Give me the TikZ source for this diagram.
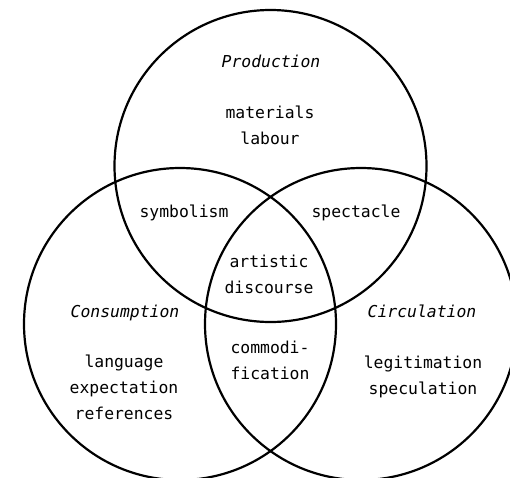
\documentclass[tikz,border=0pt]{standalone}
\usepackage{fontspec}
\setmonofont{DejaVu Sans Mono}

\begin{document}
\begin{tikzpicture}[x=1pt, y=-1pt,
    ring/.style={line width=2.2pt},
    word/.style={font=\ttfamily\fontsize{16.4}{25.6}\selectfont,
        align=center, anchor=base, inner sep=0pt},
    setname/.style={word, font=\ttfamily\itshape\fontsize{16.4}{25.6}\selectfont}]
    \useasboundingbox (0,0) rectangle (510,477);

    % Środki trzech okręgów
    \coordinate (prod) at (270.5,166);
    \coordinate (cons) at (180,324);
    \coordinate (circ) at (361,324);

    % Okręgi
    \draw[ring] (prod) circle[radius=156pt];
    \draw[ring] (cons) circle[radius=156pt];
    \draw[ring] (circ) circle[radius=156pt];

    % Nazwy obszarów
    \node[setname] (prodname) at (271,67.5) {Production};
    \node[setname] (consname) at (125,317) {Consumption};
    \node[setname] (circname) at (422,317) {Circulation};

    % Zawartość (base = linia bazowa ostatniego wiersza)
    \node[word] (prodtext) at (270,144) {materials\\labour};
    \node[word] (constext) at (124,419) {language\\expectation\\references};
    \node[word] (circtext) at (423,394) {legitimation\\speculation};

    % Części wspólne
    \node[word] (symb) at (184,217) {symbolism};
    \node[word] (spec) at (356,217) {spectacle};
    \node[word] (comm) at (270,379) {commodi-\\fication};
    \node[word] (disc) at (269,293) {artistic\\discourse};
\end{tikzpicture}
\end{document}
